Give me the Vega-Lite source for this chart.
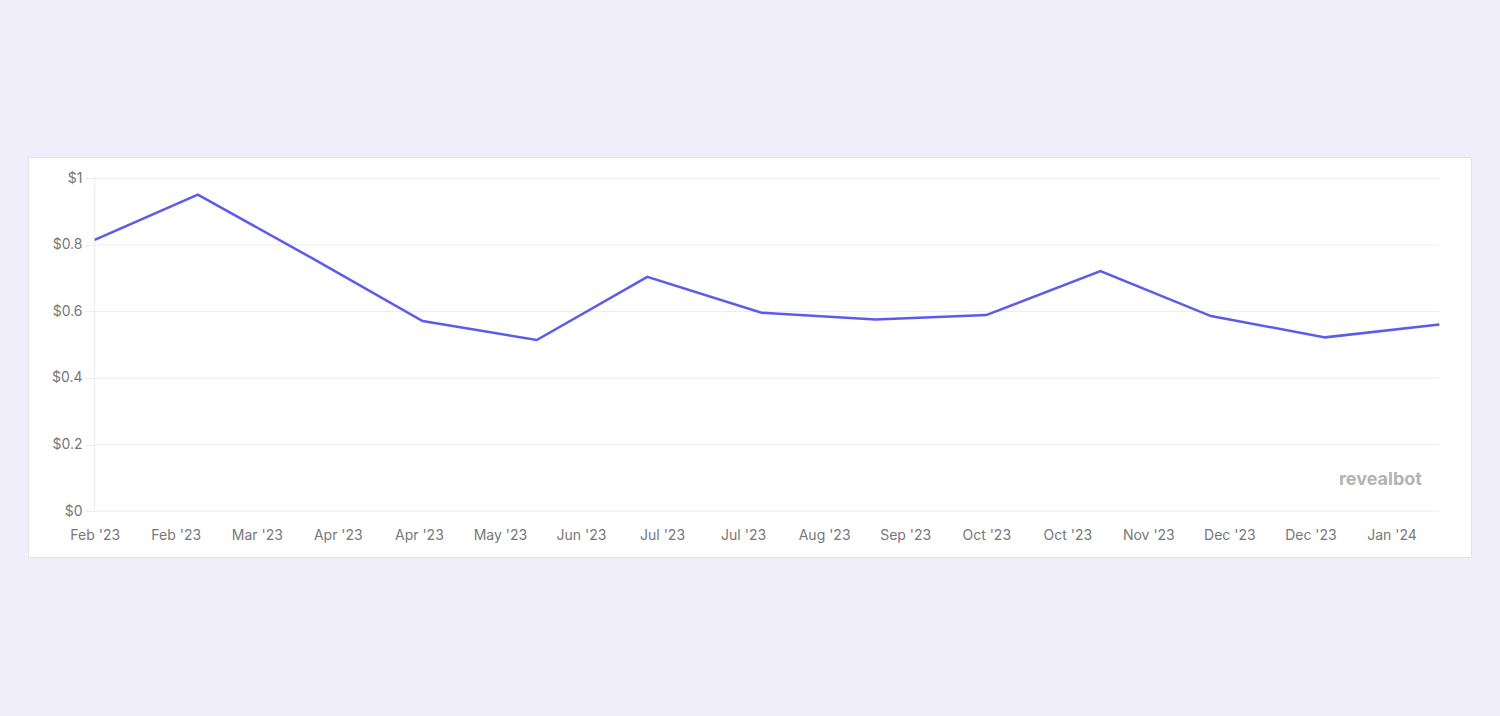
{
  "$schema": "https://vega.github.io/schema/vega-lite/v6.json",
  "autosize": {"type": "none"},
  "width": 1443,
  "height": 400,
  "padding": {"left": 28, "top": 157, "right": 29, "bottom": 159},
  "background": "#efeefa",
  "config": {
    "view": {"fill": "#ffffff", "stroke": "#e2e2ec", "strokeWidth": 1},
    "axis": {"labelFont": "Inter", "labelFontSize": 14, "labelColor": "#777777"}
  },
  "layer": [
    {
      "data": {"values": [{"v": 0}, {"v": 0.2}, {"v": 0.4}, {"v": 0.6}, {"v": 0.8}, {"v": 1}]},
      "mark": {"type": "rule", "color": "#ececec", "strokeWidth": 1},
      "encoding": {
        "y": {"field": "v", "type": "quantitative"},
        "x": {"datum": {"year": 2023, "month": 2, "date": 1, "utc": true}, "type": "temporal"},
        "x2": {"datum": {"year": 2024, "month": 2, "date": 1, "utc": true}}
      }
    },
    {
      "data": {"values": [{"v": 0}]},
      "mark": {"type": "rule", "color": "#ececec", "strokeWidth": 1},
      "encoding": {
        "x": {"datum": {"year": 2023, "month": 2, "date": 1, "utc": true}, "type": "temporal"},
        "y": {"datum": 0, "type": "quantitative"},
        "y2": {"datum": 1}
      }
    },
    {
      "data": {
        "values": [
          {"date": "2023-02-01", "cost": 0.815},
          {"date": "2023-03-01", "cost": 0.951},
          {"date": "2023-04-01", "cost": 0.76},
          {"date": "2023-05-01", "cost": 0.571},
          {"date": "2023-06-01", "cost": 0.514},
          {"date": "2023-07-01", "cost": 0.704},
          {"date": "2023-08-01", "cost": 0.596},
          {"date": "2023-09-01", "cost": 0.576},
          {"date": "2023-10-01", "cost": 0.589},
          {"date": "2023-11-01", "cost": 0.721},
          {"date": "2023-12-01", "cost": 0.586},
          {"date": "2024-01-01", "cost": 0.522},
          {"date": "2024-02-01", "cost": 0.561}
        ]
      },
      "mark": {"type": "line", "color": "#5b5bec", "strokeWidth": 2.5},
      "encoding": {
        "x": {
          "field": "date",
          "type": "temporal",
          "title": null,
          "scale": {
            "type": "utc",
            "domain": [
              {"year": 2023, "month": 1, "date": 13, "hours": 21, "minutes": 36, "utc": true},
              {"year": 2024, "month": 2, "date": 9, "hours": 14, "utc": true}
            ],
            "nice": false
          },
          "axis": {
            "offset": -46,
            "domain": false,
            "ticks": false,
            "grid": false,
            "labelPadding": 17,
            "format": "%b '%y",
            "labelOverlap": false,
            "values": [
              {"year": 2023, "month": 2, "date": 1, "utc": true},
              {"year": 2023, "month": 2, "date": 23, "utc": true},
              {"year": 2023, "month": 3, "date": 17, "utc": true},
              {"year": 2023, "month": 4, "date": 8, "utc": true},
              {"year": 2023, "month": 4, "date": 30, "utc": true},
              {"year": 2023, "month": 5, "date": 22, "utc": true},
              {"year": 2023, "month": 6, "date": 13, "utc": true},
              {"year": 2023, "month": 7, "date": 5, "utc": true},
              {"year": 2023, "month": 7, "date": 27, "utc": true},
              {"year": 2023, "month": 8, "date": 18, "utc": true},
              {"year": 2023, "month": 9, "date": 9, "utc": true},
              {"year": 2023, "month": 10, "date": 1, "utc": true},
              {"year": 2023, "month": 10, "date": 23, "utc": true},
              {"year": 2023, "month": 11, "date": 14, "utc": true},
              {"year": 2023, "month": 12, "date": 6, "utc": true},
              {"year": 2023, "month": 12, "date": 28, "utc": true},
              {"year": 2024, "month": 1, "date": 19, "utc": true}
            ]
          }
        },
        "y": {
          "field": "cost",
          "type": "quantitative",
          "title": null,
          "scale": {"domain": [-0.138, 1.064], "nice": false, "zero": false},
          "axis": {
            "offset": -67,
            "domain": false,
            "grid": false,
            "ticks": true,
            "tickSize": 10,
            "tickColor": "#ececec",
            "labelPadding": 3,
            "values": [0, 0.2, 0.4, 0.6, 0.8, 1],
            "labelExpr": "'$' + format(datum.value, '~g')"
          }
        }
      }
    },
    {
      "data": {"values": [{"label": "revealbot"}]},
      "mark": {"type": "text", "align": "right", "baseline": "middle", "font": "Inter", "fontWeight": "bold", "fontSize": 18, "color": "#b3b3b3"},
      "encoding": {
        "text": {"field": "label"},
        "x": {"datum": {"year": 2024, "month": 1, "date": 27, "hours": 6, "utc": true}, "type": "temporal"},
        "y": {"datum": 0.093, "type": "quantitative"}
      }
    }
  ]
}
